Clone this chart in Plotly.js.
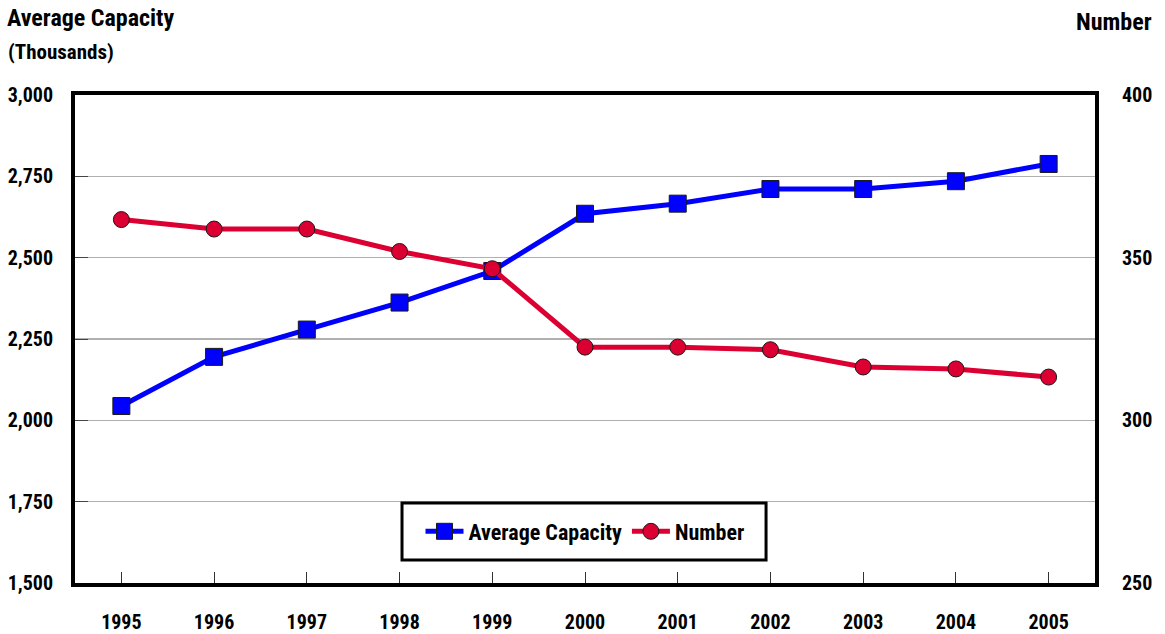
<!DOCTYPE html>
<html>
<head>
<meta charset="utf-8">
<script src="https://cdn.plot.ly/plotly-3.0.1.min.js"></script>
<style>html,body{margin:0;padding:0;background:#fff;}#chart{width:1165px;height:634px;}</style>
</head>
<body>
<div id="chart"></div>
<script>
const years = ['1995','1996','1997','1998','1999','2000','2001','2002','2003','2004','2005'];
const avgCapacity = [2044, 2195, 2279, 2362, 2459, 2635, 2666, 2711, 2711, 2735, 2788];
const number = [361.7, 358.8, 358.8, 351.9, 346.6, 322.5, 322.5, 321.7, 316.4, 315.8, 313.3];
const leftTicks = [1500, 1750, 2000, 2250, 2500, 2750, 3000];
const leftTickText = ['1,500', '1,750', '2,000', '2,250', '2,500', '2,750', '3,000'];
const rightTicks = [250, 300, 350, 400];

// pick the narrowest installed sans face so labels can be as tall as in the reference
const ctx = document.createElement('canvas').getContext('2d');
function width(fam, s) { ctx.font = 'bold 100px ' + fam; return ctx.measureText(s).width; }
const probe = 'Average Capacity 3,000';
const mono = width('monospace', probe);
const candidates = ['"Liberation Sans Narrow"', '"Arial Narrow"', '"Roboto Condensed"', '"Noto Sans Condensed"',
                    '"Open Sans Condensed"', '"Liberation Sans"'];
let FAM = 'Liberation Sans', S = 18;
for (const c of candidates) {
  const w = width(c + ', monospace', probe);
  if (w !== mono) {
    const s = 46 / (width(c + ', monospace', '3,000') / 100);
    FAM = c.replace(/"/g, '');
    S = Math.min(22, Math.max(17, Math.round(s)));
    break;
  }
}
const FONT = {family: FAM, size: S, color: '#000', weight: 'bold'};
const LEGFONT = {family: FAM, size: Math.round(S * 1.08), color: '#000', weight: 'bold'};
const TITLEFONT = {family: FAM, size: Math.round(S * 1.18), color: '#000', weight: 'bold'};
const SUBFONT = {family: FAM, size: Math.round((S - 1) * 1.12), color: '#000', weight: 'bold'};

const traces = [
  {
    x: years, y: avgCapacity, name: 'Average Capacity', type: 'scatter', mode: 'lines+markers',
    line: {color: '#0000FF', width: 5},
    marker: {symbol: 'square', size: 17, color: '#0000FF', line: {color: '#1a1a1a', width: 1}},
    xaxis: 'x', yaxis: 'y'
  },
  {
    x: years, y: number, name: 'Number', type: 'scatter', mode: 'lines+markers',
    line: {color: '#DC0032', width: 5},
    marker: {symbol: 'circle', size: 16, color: '#DC0032', line: {color: '#1a1a1a', width: 1}},
    xaxis: 'x', yaxis: 'y2'
  }
];

const layout = {
  width: 1165, height: 634,
  margin: {l: 75, r: 70, t: 95, b: 51},
  paper_bgcolor: '#fff', plot_bgcolor: '#fff',
  font: FONT,
  showlegend: true,
  legend: {
    orientation: 'h', x: 0.5, xanchor: 'center', y: 0.1055, yanchor: 'middle',
    borderwidth: 0, bgcolor: 'rgba(0,0,0,0)', font: LEGFONT,
    itemwidth: 38, tracegroupgap: 0
  },
  shapes: [
    {type: 'rect', xref: 'paper', yref: 'paper', x0: 0.3206, x1: 0.6775, y0: 0.047, y1: 0.164,
     line: {color: '#000', width: 3}, fillcolor: '#fff', layer: 'above'}
  ],
  xaxis: {
    type: 'category', range: [-0.5, 10.5],
    showline: true, linecolor: '#000', linewidth: 4, mirror: true,
    ticks: 'inside', ticklen: 11, tickwidth: 1, tickcolor: '#333',
    showgrid: false, zeroline: false, tickfont: FONT, ticklabelstandoff: 18
  },
  xaxis2: {
    type: 'category', range: [-0.5, 10.5], overlaying: 'x', anchor: 'y', side: 'bottom',
    showline: false, ticks: 'outside', ticklen: 5, tickwidth: 1, tickcolor: '#333',
    showticklabels: false, showgrid: false, zeroline: false,
    tickmode: 'array', tickvals: years
  },
  yaxis: {
    range: [1500, 3000], tickmode: 'array', tickvals: leftTicks, ticktext: leftTickText,
    showline: true, linecolor: '#000', linewidth: 4, mirror: true,
    ticks: 'inside', ticklen: 13, tickwidth: 1, tickcolor: '#444',
    showgrid: true, gridcolor: '#b0b0b0', gridwidth: 1.5, zeroline: false,
    tickfont: FONT, ticklabelstandoff: 14
  },
  yaxis2: {
    range: [250, 400], tickmode: 'array', tickvals: rightTicks,
    overlaying: 'y', side: 'right', anchor: 'x',
    showline: false, ticks: '', showgrid: false, zeroline: false,
    tickfont: FONT, ticklabelstandoff: 26
  },
  annotations: [
    {xref: 'paper', yref: 'paper', x: -0.069, y: 1.157, xanchor: 'left', yanchor: 'middle',
     text: 'Average Capacity', showarrow: false, font: TITLEFONT},
    {xref: 'paper', yref: 'paper', x: -0.068, y: 1.088, xanchor: 'left', yanchor: 'middle',
     text: '(Thousands)', showarrow: false, font: SUBFONT},
    {xref: 'paper', yref: 'paper', x: 1.058, y: 1.15, xanchor: 'right', yanchor: 'middle',
     text: 'Number', showarrow: false, font: TITLEFONT}
  ]
};

Plotly.newPlot('chart', traces, layout, {displayModeBar: false, staticPlot: true});
</script>
</body>
</html>
